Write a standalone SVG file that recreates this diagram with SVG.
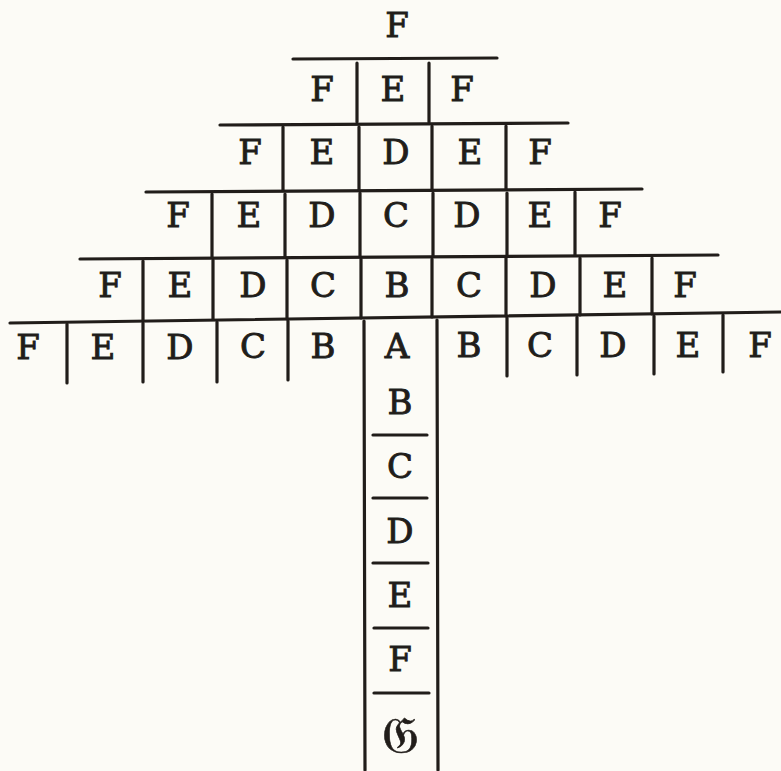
<svg xmlns="http://www.w3.org/2000/svg" width="781" height="771" viewBox="0 0 781 771">
<style>
.bg{fill:#fcfbf6}
.ln{stroke:#211d1a;stroke-width:3.2;stroke-linecap:round;fill:none}
.t{font-family:"DejaVu Serif","Liberation Serif",serif;font-size:34px;fill:#211d1a;stroke:#211d1a;stroke-width:0.9;text-anchor:middle}
.g{font-family:"DejaVu Serif","DejaVu Sans",serif;font-size:52px;fill:#211d1a;stroke:#211d1a;stroke-width:0.6;text-anchor:middle}
</style>
<rect class="bg" x="0" y="0" width="781" height="771"/>
<g id="connectors" class="ln">
<line x1="293" y1="59" x2="497" y2="58"/>
<line x1="220" y1="125" x2="568" y2="123"/>
<line x1="146" y1="192" x2="642" y2="189"/>
<line x1="80" y1="259" x2="718" y2="255"/>
<line x1="10" y1="323" x2="781" y2="312"/>
<line x1="357" y1="63" x2="357" y2="122"/>
<line x1="429" y1="63" x2="429" y2="122"/>
<line x1="283" y1="127" x2="283" y2="190"/>
<line x1="359" y1="127" x2="359" y2="190"/>
<line x1="432" y1="126" x2="432" y2="190"/>
<line x1="506" y1="126" x2="506" y2="189"/>
<line x1="212" y1="194" x2="212" y2="257"/>
<line x1="285" y1="194" x2="285" y2="257"/>
<line x1="360" y1="193" x2="360" y2="256"/>
<line x1="433" y1="193" x2="433" y2="256"/>
<line x1="507" y1="193" x2="507" y2="256"/>
<line x1="575" y1="192" x2="575" y2="255"/>
<line x1="143" y1="261" x2="143" y2="320"/>
<line x1="213" y1="260" x2="213" y2="319"/>
<line x1="287" y1="260" x2="287" y2="319"/>
<line x1="361" y1="259" x2="361" y2="318"/>
<line x1="432" y1="259" x2="432" y2="317"/>
<line x1="506" y1="258" x2="506" y2="316"/>
<line x1="580" y1="258" x2="580" y2="315"/>
<line x1="652" y1="258" x2="652" y2="314"/>
<line x1="67" y1="324" x2="67" y2="383"/>
<line x1="143" y1="323" x2="143" y2="382"/>
<line x1="217" y1="322" x2="217" y2="382"/>
<line x1="288" y1="321" x2="288" y2="380"/>
<line x1="507" y1="318" x2="507" y2="376"/>
<line x1="577" y1="317" x2="577" y2="375"/>
<line x1="654" y1="316" x2="654" y2="374"/>
<line x1="723" y1="315" x2="723" y2="372"/>
<line x1="364" y1="321" x2="365" y2="770"/>
<line x1="437" y1="320" x2="438" y2="770"/>
<line x1="373" y1="435" x2="427" y2="435"/>
<line x1="373" y1="498" x2="427" y2="498"/>
<line x1="373" y1="563" x2="428" y2="563"/>
<line x1="374" y1="628" x2="428" y2="628"/>
<line x1="374" y1="693" x2="429" y2="693"/>
</g>
<g id="row0"><text class="t" x="397" y="37">F</text></g>
<g id="row1">
<text class="t" x="322" y="101">F</text><text class="t" x="393" y="101">E</text><text class="t" x="462" y="101">F</text>
</g>
<g id="row2">
<text class="t" x="250" y="164">F</text><text class="t" x="322" y="164">E</text><text class="t" x="396" y="164">D</text><text class="t" x="470" y="164">E</text><text class="t" x="540" y="164">F</text>
</g>
<g id="row3">
<text class="t" x="178" y="227">F</text><text class="t" x="249" y="227">E</text><text class="t" x="322" y="227">D</text><text class="t" x="396" y="227">C</text><text class="t" x="467" y="227">D</text><text class="t" x="540" y="227">E</text><text class="t" x="610" y="227">F</text>
</g>
<g id="row4">
<text class="t" x="110" y="297">F</text><text class="t" x="180" y="297">E</text><text class="t" x="253" y="297">D</text><text class="t" x="323" y="297">C</text><text class="t" x="397" y="297">B</text><text class="t" x="469" y="297">C</text><text class="t" x="543" y="297">D</text><text class="t" x="615" y="297">E</text><text class="t" x="685" y="297">F</text>
</g>
<g id="row5">
<text class="t" x="28" y="359">F</text><text class="t" x="103" y="359">E</text><text class="t" x="180" y="359">D</text><text class="t" x="253" y="358">C</text><text class="t" x="323" y="358">B</text><text class="t" x="397" y="358">A</text><text class="t" x="469" y="357">B</text><text class="t" x="540" y="357">C</text><text class="t" x="613" y="357">D</text><text class="t" x="688" y="357">E</text><text class="t" x="760" y="357">F</text>
</g>
<g id="column">
<text class="t" x="400" y="414">B</text>
<text class="t" x="400" y="478">C</text>
<text class="t" x="400" y="543">D</text>
<text class="t" x="400" y="607">E</text>
<text class="t" x="400" y="671">F</text>
<text class="g" x="400" y="753">𝔊</text>
</g>
</svg>
